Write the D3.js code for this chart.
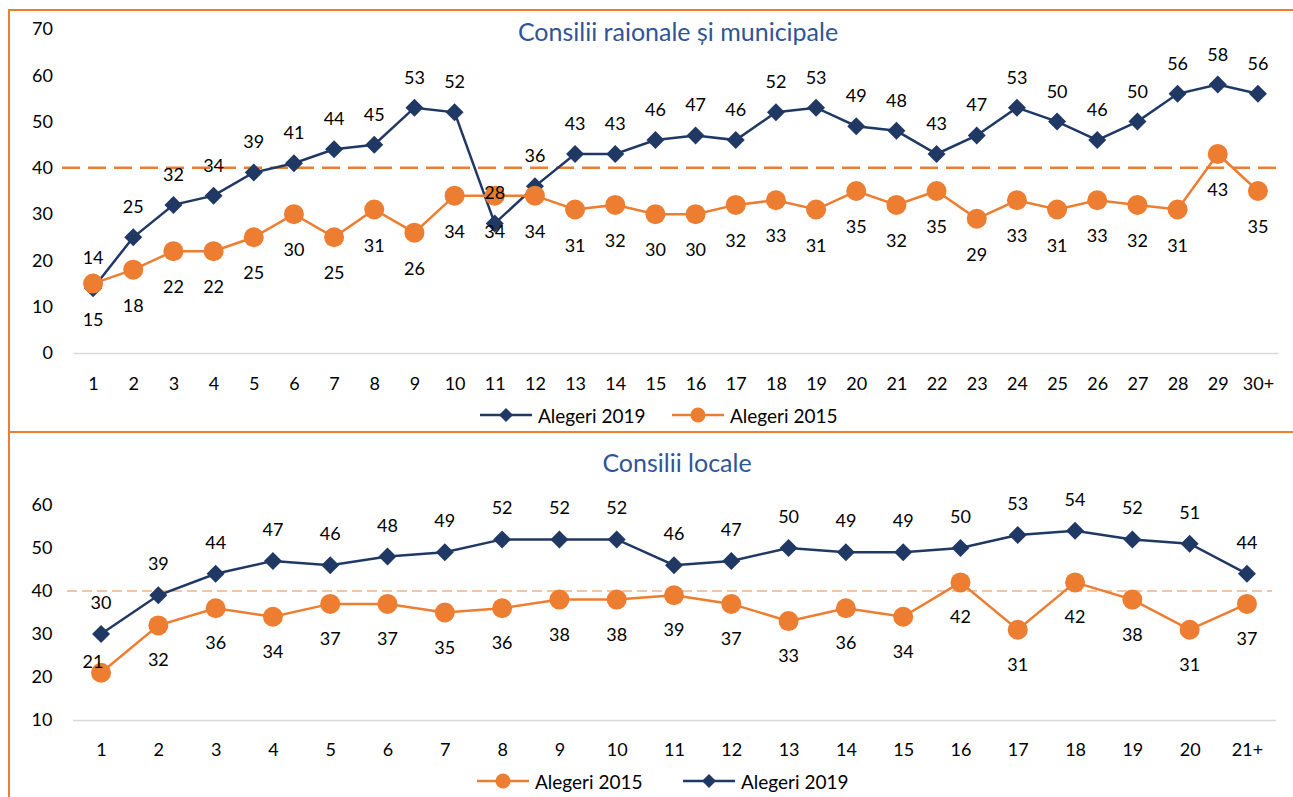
<!DOCTYPE html>
<html>
<head>
<meta charset="utf-8">
<script src="https://cdn.jsdelivr.net/npm/d3@7"></script>
<style>
  html, body { margin: 0; padding: 0; background: #fff; }
  svg { display: block; font-family: Lato, "Open Sans", sans-serif; }
</style>
</head>
<body>
<svg id="chart" width="1293" height="797"></svg>
<script>
// ---------- DATA ----------
const topTitle = "Consilii raionale și municipale";
const topCategories = ["1","2","3","4","5","6","7","8","9","10","11","12","13","14","15","16","17","18","19","20","21","22","23","24","25","26","27","28","29","30+"];
const topValues2019 = [14,25,32,34,39,41,44,45,53,52,28,36,43,43,46,47,46,52,53,49,48,43,47,53,50,46,50,56,58,56];
const topValues2015 = [15,18,22,22,25,30,25,31,26,34,34,34,31,32,30,30,32,33,31,35,32,35,29,33,31,33,32,31,43,35];
const topYTicks = [0,10,20,30,40,50,60,70];
const topReference = 40;

const bottomTitle = "Consilii locale";
const bottomCategories = ["1","2","3","4","5","6","7","8","9","10","11","12","13","14","15","16","17","18","19","20","21+"];
const bottomValues2015 = [21,32,36,34,37,37,35,36,38,38,39,37,33,36,34,42,31,42,38,31,37];
const bottomValues2019 = [30,39,44,47,46,48,49,52,52,52,46,47,50,49,49,50,53,54,52,51,44];
const bottomYTicks = [10,20,30,40,50,60];
const bottomReference = 40;

const seriesNames = { s2019: "Alegeri 2019", s2015: "Alegeri 2015" };

// ---------- STYLE ----------
const NAVY = "#203864";
const ORANGE = "#ED7D31";
const LIGHT_ORANGE = "#F4B183";
const GRID = "#D9D9D9";
const TITLE_BLUE = "#2F5597";
const FONT = 18;

const svg = d3.select("#chart");

// frame
svg.append("line").attr("x1", 9).attr("x2", 1293).attr("y1", 10).attr("y2", 10)
  .attr("stroke", ORANGE).attr("stroke-width", 2);
svg.append("line").attr("x1", 9).attr("x2", 9).attr("y1", 9).attr("y2", 797)
  .attr("stroke", ORANGE).attr("stroke-width", 2);
svg.append("line").attr("x1", 9).attr("x2", 1293).attr("y1", 432).attr("y2", 432)
  .attr("stroke", ORANGE).attr("stroke-width", 2);

function drawDiamond(g, x, y, half) {
  g.append("path")
    .attr("d", `M${x},${y-half}L${x+half},${y}L${x},${y+half}L${x-half},${y}Z`)
    .attr("fill", NAVY);
}

function panel(cfg) {
  const g = svg.append("g");
  const x = d3.scalePoint().domain(cfg.categories).range(cfg.xRange).padding(0.5);
  const y = d3.scaleLinear().domain(cfg.yDomain).range(cfg.yRange);

  // title
  g.append("text").attr("x", cfg.titleX).attr("y", cfg.titleY)
    .attr("text-anchor", "middle").attr("dominant-baseline", "central")
    .attr("fill", TITLE_BLUE).attr("font-size", 25).text(cfg.title);

  // y axis (labels only)
  const ya = g.append("g").attr("transform", `translate(${cfg.xRange[0]},0)`)
    .call(d3.axisLeft(y).tickValues(cfg.yTicks).tickSize(0).tickPadding(20).tickFormat(d3.format("d")));
  ya.select(".domain").remove();
  ya.selectAll("text").attr("font-size", FONT).attr("fill", "#000").attr("font-family", "Lato, sans-serif");

  // x axis
  const xa = g.append("g").attr("transform", `translate(0,${y(cfg.yDomain[0])})`)
    .call(d3.axisBottom(x).tickSize(0).tickSizeOuter(0).tickPadding(cfg.xPad));
  xa.select(".domain").attr("stroke", GRID).attr("stroke-width", 1.5);
  xa.selectAll("text").attr("font-size", FONT).attr("fill", "#000").attr("font-family", "Lato, sans-serif");

  // reference dashed line
  g.append("line").attr("x1", cfg.refX[0]).attr("x2", cfg.refX[1])
    .attr("y1", y(cfg.reference)).attr("y2", y(cfg.reference))
    .attr("stroke", cfg.refColor).attr("stroke-width", cfg.refWidth)
    .attr("stroke-dasharray", cfg.refDash);

  const line = d3.line().x((d, i) => x(cfg.categories[i])).y(d => y(d));

  const labels = [];
  cfg.series.forEach(s => {
    g.append("path").datum(s.values).attr("d", line)
      .attr("fill", "none").attr("stroke", s.color).attr("stroke-width", 2.5);
    s.values.forEach((v, i) => {
      const cx = x(cfg.categories[i]), cy = y(v);
      if (s.marker === "diamond") drawDiamond(g, cx, cy, cfg.diamondHalf);
      else g.append("circle").attr("cx", cx).attr("cy", cy).attr("r", cfg.circleR).attr("fill", s.color);
      const off = s.labelPos === "above" ? cfg.aboveOff : cfg.belowOff;
      let lx = cx, ly = cy + off;
      if (s.labelOverride && s.labelOverride[i]) {
        lx = cx + s.labelOverride[i][0];
        ly = cy + s.labelOverride[i][1];
      }
      labels.push({ x: lx, y: ly, t: v });
    });
  });
  g.selectAll("text.lbl").data(labels).enter().append("text").attr("class", "lbl")
    .attr("x", d => d.x).attr("y", d => d.y)
    .attr("text-anchor", "middle").attr("dominant-baseline", "central")
    .attr("font-size", FONT).attr("fill", "#000").text(d => d.t);

  // legend
  cfg.legend.forEach(l => {
    const lg = g.append("g");
    lg.append("line").attr("x1", l.x).attr("x2", l.x + 52).attr("y1", cfg.legendY).attr("y2", cfg.legendY)
      .attr("stroke", l.color).attr("stroke-width", 2.5);
    if (l.marker === "diamond") drawDiamond(lg, l.x + 26, cfg.legendY, 7);
    else lg.append("circle").attr("cx", l.x + 26).attr("cy", cfg.legendY).attr("r", 7.5).attr("fill", l.color);
    lg.append("text").attr("x", l.x + 58).attr("y", cfg.legendY)
      .attr("dominant-baseline", "central").attr("font-size", 19).attr("fill", "#000").text(l.name);
  });
}

panel({
  title: topTitle, titleX: 678, titleY: 31,
  categories: topCategories,
  xRange: [73, 1278], yDomain: [0, 70], yRange: [353, 29], yTicks: topYTicks,
  xPad: 24,
  reference: topReference, refX: [62, 1282], refColor: ORANGE, refWidth: 2.5, refDash: "18 8",
  diamondHalf: 9, circleR: 10, aboveOff: -31, belowOff: 35,
  series: [
    { values: topValues2019, color: NAVY, marker: "diamond", labelPos: "above" },
    { values: topValues2015, color: ORANGE, marker: "circle", labelPos: "below" }
  ],
  legendY: 415,
  legend: [
    { x: 480, name: seriesNames.s2019, color: NAVY, marker: "diamond" },
    { x: 672, name: seriesNames.s2015, color: ORANGE, marker: "circle" }
  ]
});

panel({
  title: bottomTitle, titleX: 677, titleY: 462,
  categories: bottomCategories,
  xRange: [72.4, 1275.6], yDomain: [10, 60], yRange: [720, 505], yTicks: bottomYTicks,
  xPad: 23,
  reference: bottomReference, refX: [67, 1272], refColor: LIGHT_ORANGE, refWidth: 1.5, refDash: "10 5",
  diamondHalf: 9, circleR: 10, aboveOff: -32, belowOff: 34,
  series: [
    { values: bottomValues2015, color: ORANGE, marker: "circle", labelPos: "below", labelOverride: { 0: [-8, -12] } },
    { values: bottomValues2019, color: NAVY, marker: "diamond", labelPos: "above" }
  ],
  legendY: 781,
  legend: [
    { x: 477, name: seriesNames.s2015, color: ORANGE, marker: "circle" },
    { x: 683, name: seriesNames.s2019, color: NAVY, marker: "diamond" }
  ]
});
</script>
</body>
</html>
